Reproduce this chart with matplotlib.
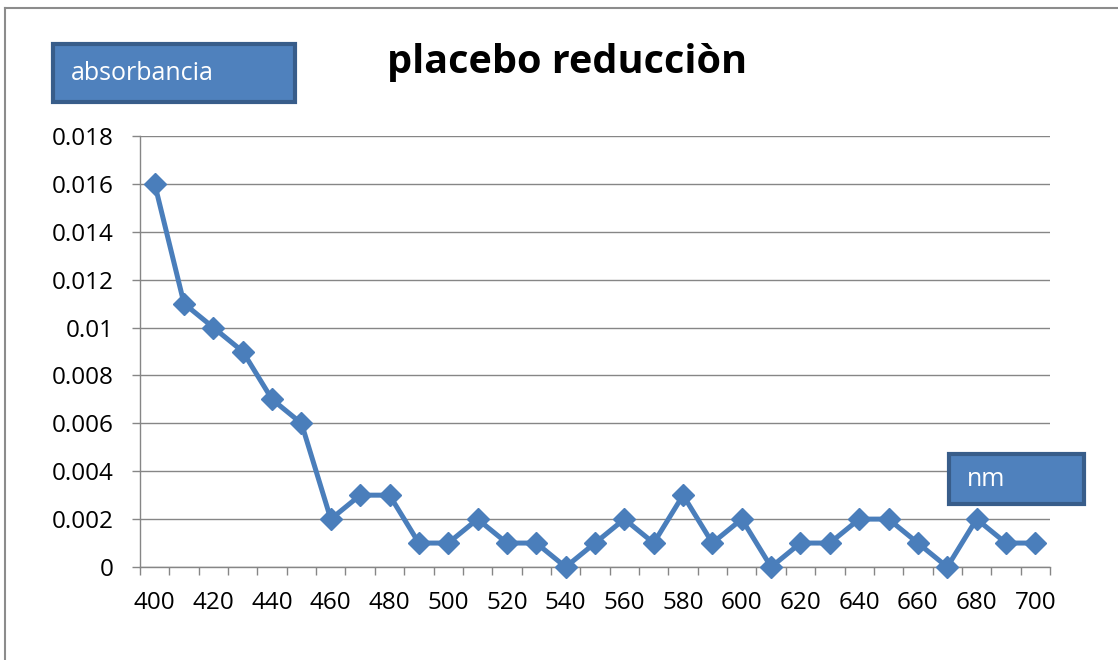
import matplotlib.pyplot as plt
from matplotlib.patches import Rectangle
from matplotlib.lines import Line2D

wavelength = list(range(400, 701, 10))
absorbance = [0.016, 0.011, 0.010, 0.009, 0.007, 0.006, 0.002, 0.003, 0.003, 0.001,
              0.001, 0.002, 0.001, 0.001, 0.0, 0.001, 0.002, 0.001, 0.003, 0.001,
              0.002, 0.0, 0.001, 0.001, 0.002, 0.002, 0.001, 0.0, 0.002, 0.001, 0.001]
yticks = [0, 0.002, 0.004, 0.006, 0.008, 0.01, 0.012, 0.014, 0.016, 0.018]
ytick_labels = ["0", "0.002", "0.004", "0.006", "0.008", "0.01", "0.012", "0.014", "0.016", "0.018"]

plt.rcParams['font.family'] = ['Open Sans', 'DejaVu Sans']

W, H = 1118, 660
fig = plt.figure(figsize=(W / 100, H / 100), dpi=100)
ax = fig.add_axes([140 / W, 1 - 567 / H, (1050 - 140) / W, (567 - 136) / H])

n = len(wavelength)
pos = list(range(n))
ax.plot(pos, absorbance, color="#4A7EBB", lw=3.6, marker="D", markersize=11,
        markerfacecolor="#4A7EBB", markeredgecolor="#4A7EBB", zorder=3,
        clip_on=False)

ax.set_xlim(-0.5, n - 0.5)
ax.set_ylim(0, 0.018)
ax.set_yticks(yticks)
ax.set_yticklabels(ytick_labels)
ax.set_xticks(pos[::2])
ax.set_xticklabels([str(w) for w in wavelength[::2]])
ax.set_xticks([p - 0.5 for p in range(n + 1)], minor=True)
ax.tick_params(axis="x", which="major", length=0, pad=17, labelsize=17.5)
ax.tick_params(axis="x", which="minor", length=6, color="#868686", width=1)
ax.tick_params(axis="y", length=6, color="#868686", width=1, labelsize=17.5, pad=13)
ax.grid(axis="y", color="#868686", lw=1)
for s in ["top", "right"]:
    ax.spines[s].set_visible(False)
for s in ["left", "bottom"]:
    ax.spines[s].set_color("#868686")
    ax.spines[s].set_linewidth(1)

# outer chart border (only top and left edges are visible)
fig.add_artist(Line2D([5 / W, 5 / W], [0, 1 - 8 / H], transform=fig.transFigure,
                      color="#8C8C8C", lw=1.5))
fig.add_artist(Line2D([5 / W, 1], [1 - 8 / H, 1 - 8 / H], transform=fig.transFigure,
                      color="#8C8C8C", lw=1.5))

fig.text(567 / W, 1 - 73 / H, "placebo reducciòn", ha="center", va="baseline",
         fontsize=28.5, fontweight="bold")

# label boxes
def label_box(x0, y0, x1, y1, text):
    fig.patches.append(Rectangle((x0 / W, 1 - y1 / H), (x1 - x0) / W, (y1 - y0) / H,
                                 transform=fig.transFigure, facecolor="#4F81BD",
                                 edgecolor="#385D8A", lw=3, zorder=5))
    fig.text((x0 + 18) / W, 1 - (y0 + y1) / 2 / H, text, ha="left", va="center",
             color="white", fontsize=18, zorder=6)

label_box(53, 44, 295, 102, "absorbancia")
label_box(949, 454, 1084, 504, "nm")

fig.savefig("out.png", dpi=100)
